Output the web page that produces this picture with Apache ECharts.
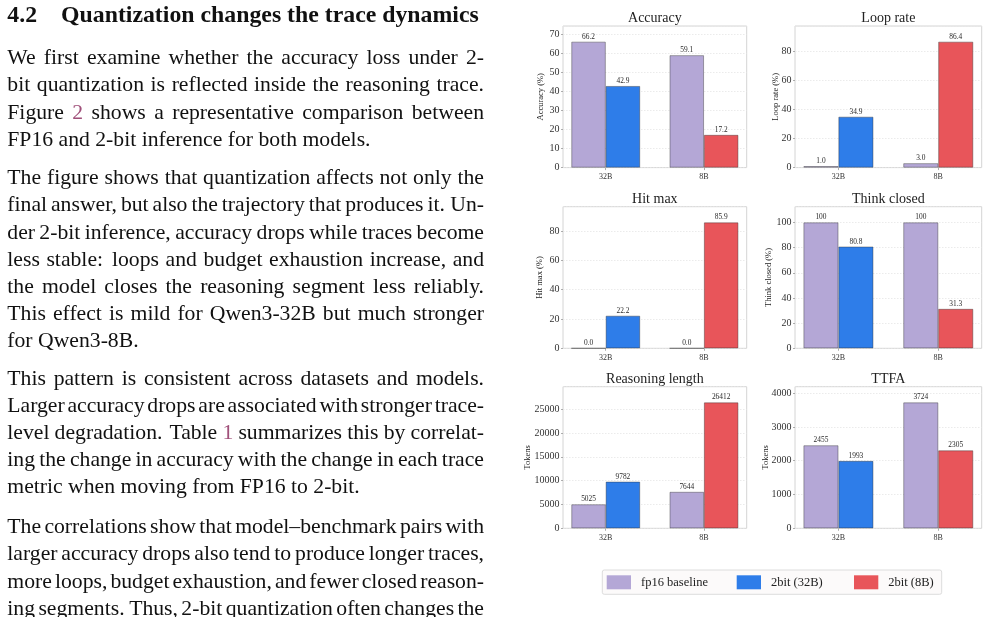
<!DOCTYPE html>
<html><head><meta charset="utf-8">
<script src="https://cdn.jsdelivr.net/npm/echarts@6/dist/echarts.min.js"></script>
<style>html,body{margin:0;padding:0;background:#fff}#c{width:986px;height:617px}</style>
</head><body><div id="c"></div>
<script>
// ---------------- data ----------------
const categories = ['32B', '8B'];
const seriesNames = ['fp16 baseline', '2bit (32B)', '2bit (8B)'];
const panelTitles = ['Accuracy', 'Loop rate', 'Hit max', 'Think closed', 'Reasoning length', 'TTFA'];
const yAxisNames = ['Accuracy (%)', 'Loop rate (%)', 'Hit max (%)', 'Think closed (%)', 'Tokens', 'Tokens'];
const fp16Baseline = [[66.2, 59.1], [1.0, 3.0], [0.0, 0.0], [100, 100], [5025, 7644], [2455, 3724]];
const bit2_32B = [42.9, 34.9, 22.2, 80.8, 9782, 1993];
const bit2_8B = [17.2, 86.4, 85.9, 31.3, 26412, 2305];
const yTickIntervals = [10, 20, 20, 20, 5000, 1000];

const heading = ['4.2', 'Quantization changes the trace dynamics'];
const paragraphs = [
  ['We first examine whether the accuracy loss under 2-',
   'bit quantization is reflected inside the reasoning trace.',
   'Figure [2] shows a representative comparison between',
   'FP16 and 2-bit inference for both models.'],
  ['The figure shows that quantization affects not only the',
   'final answer, but also the trajectory that produces it. Un-',
   'der 2-bit inference, accuracy drops while traces become',
   'less stable: loops and budget exhaustion increase, and',
   'the model closes the reasoning segment less reliably.',
   'This effect is mild for Qwen3-32B but much stronger',
   'for Qwen3-8B.'],
  ['This pattern is consistent across datasets and models.',
   'Larger accuracy drops are associated with stronger trace-',
   'level degradation. Table [1] summarizes this by correlat-',
   'ing the change in accuracy with the change in each trace',
   'metric when moving from FP16 to 2-bit.'],
  ['The correlations show that model\u2013benchmark pairs with',
   'larger accuracy drops also tend to produce longer traces,',
   'more loops, budget exhaustion, and fewer closed reason-',
   'ing segments. Thus, 2-bit quantization often changes the']
];

// ---------------- style / layout ----------------
const FONT = 'Liberation Serif';
const COLORS = ['#b4a7d6', '#2e7de9', '#e8555a'];
const LINK = '#a0507a';
const colLeft = [563, 795], colWidth = [183.7, 186.7];
const rowTop = [26, 206.7, 386.7], rowHeight = 141.6;
const nameGaps = [17.5, 15, 18.3, 21.7, 30.5, 24.8];
const X_MIN = -0.435, X_MAX = 1.435, HALF = 0.175;
const lineY = [
  [58.5, 85.8, 113, 140.3],
  [178.5, 205.7, 232.9, 260.1, 287.3, 314.5, 341.7],
  [379, 406.2, 433.4, 460.6, 487.8],
  [527, 554.5, 582, 609]
];
const bodySize = 21.7, headSize = 23.8, textLeft = 7.3, textRight = 484;

const fmt = v => v >= 100 ? String(Math.round(v)) : v.toFixed(1);

const grids = [], xAxes = [], yAxes = [], series = [], titles = [];
for (let k = 0; k < 6; k++) {
  const c = k % 2, r = Math.floor(k / 2);
  const left = colLeft[c], top = rowTop[r], w = colWidth[c];
  grids.push({left: left, top: top, width: w, height: rowHeight, show: true,
    borderColor: '#d4d4d4', borderWidth: 1, backgroundColor: 'transparent',
    containLabel: false, outerBoundsMode: 'none'});
  const ymax = Math.max(...fp16Baseline[k], bit2_32B[k], bit2_8B[k]) * 1.125;
  xAxes.push({type: 'value', gridIndex: k, min: X_MIN, max: X_MAX,
    axisLine: {show: false, onZero: false}, splitLine: {show: false},
    axisTick: {show: true, customValues: [0, 1], length: 2.5, lineStyle: {color: '#999', width: 0.8}},
    axisLabel: {customValues: [0, 1], formatter: v => categories[Math.round(v)],
      fontSize: 8, fontFamily: FONT, color: '#333', margin: 5.5}});
  yAxes.push({type: 'value', gridIndex: k, min: 0, max: ymax, interval: yTickIntervals[k],
    axisLine: {show: false, onZero: false},
    axisTick: {show: true, length: 2, lineStyle: {color: '#999', width: 0.8}},
    axisLabel: {fontSize: 10, fontFamily: FONT, color: '#333', margin: 3.5, showMaxLabel: false,
      formatter: v => String(v)},
    splitLine: {show: true, lineStyle: {color: '#e6e6e6', type: [1.5, 1.5], width: 0.8}},
    name: yAxisNames[k], nameLocation: 'middle', nameGap: nameGaps[k], nameMoveOverlap: false,
    nameTextStyle: {fontSize: 8.5, fontFamily: FONT, color: '#222'}});
  titles.push({text: panelTitles[k], left: left + w / 2, top: top - 7.3,
    textAlign: 'center', textVerticalAlign: 'middle', padding: 0,
    textStyle: {fontSize: 14, fontWeight: 'normal', fontFamily: FONT, color: '#222'}});
  const lab = {show: true, position: 'top', distance: 1.5, fontSize: 7.4, fontFamily: FONT,
    color: '#2a2a2a', formatter: p => fmt(p.value[1])};
  const common = {type: 'bar', xAxisIndex: k, yAxisIndex: k, barWidth: '100%', barGap: '-100%',
    label: lab, animation: false};
  const sets = [
    categories.map((cat, i) => [i - HALF, fp16Baseline[k][i]]),
    [[0 + HALF, bit2_32B[k]]],
    [[1 + HALF, bit2_8B[k]]]
  ];
  sets.forEach((d, s) => series.push(Object.assign({}, common, {name: seriesNames[s], data: d,
    itemStyle: {color: COLORS[s], borderColor: 'rgba(45,45,45,0.5)', borderWidth: 0.8}})));
}

// legends (one component per entry)
const legendX = [606.7, 736.7, 854];
const legends = seriesNames.map((n, i) => ({data: [n], left: legendX[i], top: 575.3,
  itemWidth: 24.3, itemHeight: 14, padding: 0, icon: 'rect', selectedMode: false,
  itemStyle: {borderWidth: 0},
  textStyle: {fontSize: 12.5, fontFamily: FONT, color: '#222', padding: [0, 0, 0, 5]}}));

// ---------------- page text ----------------
const ctx = document.createElement('canvas').getContext('2d');
function tw(s, size, weight) { ctx.font = (weight || 'normal') + ' ' + size + 'px "' + FONT + '"'; return ctx.measureText(s).width; }
const els = [];
els.push({type: 'rect', shape: {x: 602.3, y: 570, width: 339.4, height: 24.3, r: 2}, silent: true,
  style: {fill: '#fcfafa', stroke: '#dcdcdc', lineWidth: 1}, z: -1});
function addWord(t, x, y, size, weight, color) {
  els.push({type: 'text', x: x, y: y, silent: true, style: {text: t, fontSize: size, fontFamily: FONT,
    fontWeight: weight || 'normal', fill: color || '#111', textAlign: 'left', align: 'left',
    textVerticalAlign: 'middle', verticalAlign: 'middle'}});
}
addWord(heading[0], 7.3, 15.5, headSize, 'bold');
addWord(heading[1], 61, 15.5, headSize, 'bold');
paragraphs.forEach((lines, pi) => lines.forEach((line, li) => {
  const y = lineY[pi][li];
  const last = (li === lines.length - 1) && pi !== 3;
  const words = line.split(' ');
  const clean = words.map(w => w.replace(/[\[\]]/g, ''));
  const ws = clean.map(w => tw(w, bodySize));
  const wts = words.slice(0, -1).map(w => /[.:]$/.test(w) ? 1.35 : 1);
  const sumW = ws.reduce((a, b) => a + b, 0), sumT = wts.reduce((a, b) => a + b, 0);
  const unit = last ? tw(' ', bodySize) : (textRight - textLeft - sumW) / sumT;
  let x = textLeft;
  words.forEach((w, i) => {
    addWord(clean[i], x, y, bodySize, 'normal', /^\[.*\]$/.test(w) ? LINK : '#111');
    x += ws[i] + (i < wts.length ? unit * (last ? 1 : wts[i]) : 0);
  });
}));

const chart = echarts.init(document.getElementById('c'));
chart.setOption({
  backgroundColor: '#ffffff', animation: false,
  title: titles, grid: grids, xAxis: xAxes, yAxis: yAxes, series: series,
  legend: legends, graphic: {elements: els}
});
</script></body></html>
